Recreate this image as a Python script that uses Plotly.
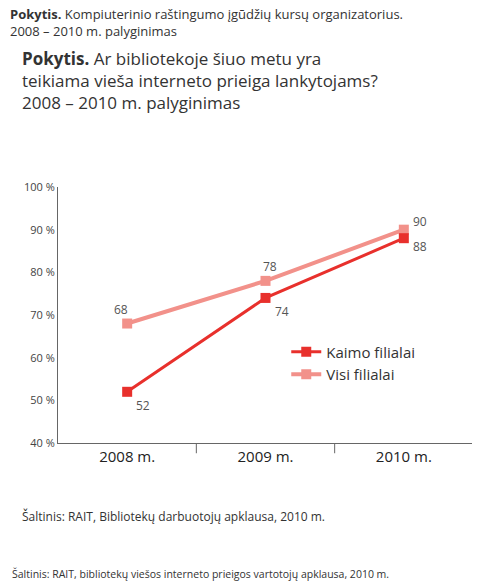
import plotly.graph_objects as go

years = ["2008 m.", "2009 m.", "2010 m."]
kaimo = [52, 74, 88]
visi = [68, 78, 90]

dark = "#e8302c"
light = "#f2918a"
fig = go.Figure()
fig.add_trace(go.Scatter(x=years, y=visi, name="Visi filialai", mode="lines+markers",
    line=dict(color=light, width=4), marker=dict(symbol="square", size=10, color=light)))
fig.add_trace(go.Scatter(x=years, y=kaimo, name="Kaimo filialai", mode="lines+markers",
    line=dict(color=dark, width=3), marker=dict(symbol="square", size=10, color=dark)))

for i, v in enumerate(visi):
    fig.add_annotation(x=years[i], y=v, text=str(v), showarrow=False, xshift=-6 if i == 0 else (4 if i == 1 else 16),
                       yshift=14 if i < 2 else 8, font=dict(size=12, color="#555"))
for i, v in enumerate(kaimo):
    fig.add_annotation(x=years[i], y=v, text=str(v), showarrow=False, xshift=16, yshift=-14 if i < 2 else -8,
                       font=dict(size=12, color="#555"))

fig.update_layout(
    width=480, height=584, plot_bgcolor="white", paper_bgcolor="white",
    margin=dict(l=50, r=15, t=179, b=149),
    font=dict(family="Open Sans", color="#333"),
    showlegend=True,
    legend=dict(x=0.55, y=0.42, xanchor="left", yanchor="top", traceorder="reversed",
                font=dict(size=15, color="#333"), itemwidth=30, bgcolor="rgba(0,0,0,0)"),
    xaxis=dict(showline=True, linecolor="#666", tickfont=dict(size=15, color="#222"), range=[-0.5, 2.5],
               showgrid=False, ticks=""),
    yaxis=dict(range=[40, 100], dtick=10, showline=True, linecolor="#666", showgrid=False,
               ticks="", ticksuffix=" %", tickfont=dict(size=11, color="#444")),
)
for xv in [0.5, 1.5]:
    fig.add_shape(type="line", xref="x", yref="paper", x0=xv, x1=xv, y0=0, y1=-0.04, line=dict(color="#666", width=1))

fig.add_annotation(xref="paper", yref="paper", x=-50/415, y=1 + 184/256, xanchor="left", yanchor="top", showarrow=False, align="left",
    text="<b>Pokytis.</b> Kompiuterinio raštingumo įgūdžių kursų organizatorius.<br>2008 – 2010 m. palyginimas",
    font=dict(size=13, color="#333", family="Open Sans"))
fig.add_annotation(xref="paper", yref="paper", x=-38/415, y=1 + 142/256, xanchor="left", yanchor="top", showarrow=False, align="left",
    text="<b>Pokytis.</b> Ar bibliotekoje šiuo metu yra<br>teikiama vieša interneto prieiga lankytojams?<br>2008 – 2010 m. palyginimas",
    font=dict(size=17, color="#333", family="Open Sans"))
fig.add_annotation(xref="paper", yref="paper", x=-38/415, y=-73 / 256, xanchor="left", yanchor="middle", showarrow=False,
    text="Šaltinis: RAIT, Bibliotekų darbuotojų apklausa, 2010 m.", font=dict(size=12, color="#333"))
fig.add_annotation(xref="paper", yref="paper", x=-48/415, y=-131 / 256, xanchor="left", yanchor="middle", showarrow=False,
    text="Šaltinis: RAIT, bibliotekų viešos interneto prieigos vartotojų apklausa, 2010 m.", font=dict(size=10.5, color="#333"))

fig.write_html("out.html")
